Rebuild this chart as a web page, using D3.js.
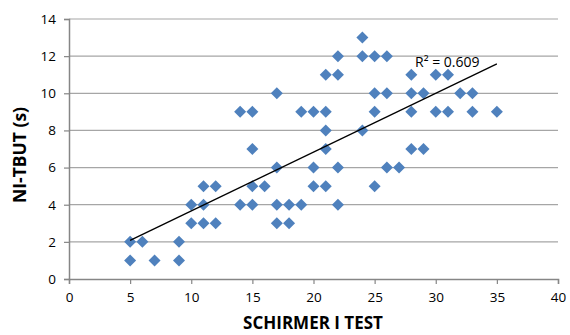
<!DOCTYPE html>
<html>
<head>
<meta charset="utf-8">
<script src="https://cdn.jsdelivr.net/npm/d3@7/dist/d3.min.js"></script>
<style>
  body { margin: 0; background: #fff; }
  svg text { font-family: "Open Sans", "Liberation Sans", sans-serif; fill: #000; }
</style>
</head>
<body>
<div id="chart"></div>
<script>
// Schirmer I test (mm) vs NI-TBUT (s)
const schirmer = [5, 5, 6, 7, 9, 9, 10, 10, 11, 11, 11, 12, 12, 14, 14, 15, 15, 15, 15, 16,
  17, 17, 17, 17, 18, 18, 19, 19, 20, 20, 20, 21, 21, 21, 21, 21, 22, 22, 22, 22,
  24, 24, 24, 25, 25, 25, 25, 26, 26, 26, 27, 28, 28, 28, 28, 29, 29, 30, 30, 31, 31, 32, 33, 33, 35];
const tbut = [2, 1, 2, 1, 2, 1, 4, 3, 5, 4, 3, 5, 3, 9, 4, 9, 7, 5, 4, 5,
  10, 6, 4, 3, 4, 3, 9, 4, 9, 6, 5, 11, 9, 8, 7, 5, 12, 11, 6, 4,
  13, 12, 8, 12, 10, 9, 5, 12, 10, 6, 6, 11, 10, 9, 7, 10, 7, 11, 9, 11, 9, 10, 10, 9, 9];
const xTicks = [0, 5, 10, 15, 20, 25, 30, 35, 40];
const yTicks = [0, 2, 4, 6, 8, 10, 12, 14];
const rSquaredLabel = "R\u00b2 = 0.609";

const width = 570, height = 335;
const margin = { top: 19, right: 12, bottom: 56, left: 69 };

const points = schirmer.map((x, i) => ({ x: x, y: tbut[i] }));

const svg = d3.select('#chart')
  .append('svg')
  .attr('width', width)
  .attr('height', height);

const x = d3.scaleLinear().domain([0, 40]).range([margin.left, width - margin.right]);
const y = d3.scaleLinear().domain([0, 14]).range([height - margin.bottom, margin.top]);

// gridlines
svg.append('g')
  .selectAll('line')
  .data(yTicks.filter(d => d > 0))
  .enter()
  .append('line')
  .attr('x1', x(0))
  .attr('x2', x(40))
  .attr('y1', d => y(d))
  .attr('y2', d => y(d))
  .attr('stroke', '#a6a6a6')
  .attr('stroke-width', 1.2);

// axes
const xAxis = svg.append('g')
  .attr('transform', `translate(0,${y(0)})`)
  .call(d3.axisBottom(x).tickValues(xTicks).tickSize(5).tickPadding(8));
const yAxis = svg.append('g')
  .attr('transform', `translate(${x(0)},0)`)
  .call(d3.axisLeft(y).tickValues(yTicks).tickSize(5).tickPadding(8));

[xAxis, yAxis].forEach(g => {
  g.select('.domain').attr('stroke', '#868686').attr('stroke-width', 1.5);
  g.selectAll('.tick line').attr('stroke', '#868686').attr('stroke-width', 1.2);
  g.selectAll('.tick text')
    .style('font-family', '"Open Sans", sans-serif')
    .style('font-size', '13.5px')
    .attr('fill', '#000');
});

// markers
svg.append('g')
  .selectAll('path')
  .data(points)
  .enter()
  .append('path')
  .attr('d', d3.symbol().type(d3.symbolSquare).size(72))
  .attr('transform', d => `translate(${x(d.x)},${y(d.y)}) rotate(45)`)
  .attr('fill', '#4f81bd');

// linear trendline (least squares)
const mx = d3.mean(schirmer), my = d3.mean(tbut);
const slope = d3.sum(points, d => (d.x - mx) * (d.y - my)) / d3.sum(points, d => (d.x - mx) ** 2);
const intercept = my - slope * mx;
const xExt = d3.extent(schirmer);

svg.append('line')
  .attr('x1', x(xExt[0]))
  .attr('y1', y(intercept + slope * xExt[0]))
  .attr('x2', x(xExt[1]))
  .attr('y2', y(intercept + slope * xExt[1]))
  .attr('stroke', '#000')
  .attr('stroke-width', 1.3);

svg.append('text')
  .attr('x', 415)
  .attr('y', 67)
  .style('font-size', '14px')
  .text(rSquaredLabel);

// axis titles
svg.append('text')
  .attr('x', 313)
  .attr('y', 329)
  .attr('text-anchor', 'middle')
  .style('font-size', '17px')
  .style('font-weight', 'bold')
  .text('SCHIRMER I TEST');

svg.append('text')
  .attr('transform', 'translate(26,155) rotate(-90)')
  .attr('text-anchor', 'middle')
  .style('font-size', '17.5px')
  .style('font-weight', 'bold')
  .text('NI-TBUT (s)');
</script>
</body>
</html>
